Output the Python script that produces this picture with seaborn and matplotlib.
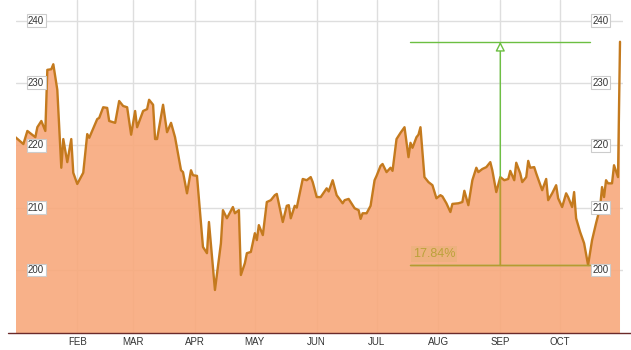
import numpy as np
import pandas as pd
import matplotlib
matplotlib.use("Agg")
import matplotlib.pyplot as plt
import matplotlib.dates as mdates
import matplotlib.transforms as mtransforms
from matplotlib.lines import Line2D
import seaborn as sns

# ---------------- data ----------------
start_date = "2015-01-01"
day_offsets = [0, 4, 6, 8, 10, 11, 13, 15, 16, 18, 19, 21, 23, 24, 26, 28, 29, 31, 34, 36,
               37, 41, 42, 44, 46, 47, 50, 52, 54, 56, 58, 60, 61, 64, 66, 67, 69, 70, 71, 74,
               76, 78, 80, 83, 84, 86, 88, 89, 91, 94, 96, 97, 100, 103, 104, 106, 109, 110, 112, 113,
               115, 116, 118, 120, 121, 122, 124, 126, 128, 130, 131, 134, 136, 137, 138, 140, 141, 144, 146, 148,
               149, 151, 153, 156, 157, 159, 161, 164, 165, 167, 170, 172, 173, 174, 176, 178, 180, 181, 183, 184,
               186, 188, 189, 191, 193, 195, 197, 198, 199, 201, 202, 203, 205, 207, 209, 211, 213, 214, 216, 218,
               219, 222, 224, 225, 227, 229, 231, 232, 234, 236, 238, 239, 241, 243, 245, 247, 248, 250, 251, 253,
               254, 256, 257, 258, 260, 261, 264, 266, 267, 269, 271, 272, 274, 276, 277, 279, 280, 281, 283, 285,
               287, 289, 291, 293, 294, 295, 296, 297, 299, 300, 302, 303]
prices = [221.3, 220.2, 222.3, 221.8, 221.3, 222.9, 223.9, 222.3, 232.1, 232.2, 233.0, 228.9, 216.4, 221.0, 217.3, 221.0, 215.6, 213.8, 215.6, 221.8,
          221.2, 224.2, 224.4, 226.1, 226.0, 223.9, 223.6, 227.1, 226.3, 226.1, 221.7, 225.5, 222.9, 225.5, 225.8, 227.3, 226.5, 221.0, 221.0, 226.5,
          222.1, 223.6, 221.3, 216.0, 215.7, 212.3, 216.0, 215.2, 215.1, 203.7, 202.7, 207.7, 196.8, 204.3, 209.6, 208.3, 210.1, 209.1, 209.6, 199.2,
          201.1, 202.7, 202.9, 205.9, 204.8, 207.2, 205.6, 210.9, 211.2, 212.0, 212.2, 207.7, 210.3, 210.4, 208.3, 210.3, 210.0, 214.6, 214.4, 214.9,
          214.1, 211.7, 211.7, 213.1, 212.6, 214.4, 212.0, 210.7, 211.2, 211.4, 209.9, 209.6, 208.2, 209.1, 209.1, 210.3, 214.4, 215.1, 216.7, 217.0,
          215.7, 216.4, 215.9, 221.0, 222.0, 222.9, 218.1, 220.4, 219.6, 221.3, 221.7, 222.9, 214.9, 214.1, 213.6, 211.5, 212.0, 211.8, 210.7, 209.3,
          210.6, 210.7, 210.9, 212.7, 210.4, 214.4, 216.4, 215.7, 216.2, 216.5, 217.3, 216.0, 212.5, 214.9, 214.4, 214.6, 215.9, 214.4, 217.2, 215.5,
          214.1, 214.9, 217.5, 216.4, 216.5, 215.5, 212.8, 214.6, 211.2, 212.3, 213.6, 211.5, 210.1, 212.3, 211.7, 210.1, 212.5, 208.3, 206.1, 204.3,
          200.8, 204.8, 207.5, 210.0, 213.3, 211.7, 214.4, 213.9, 213.9, 216.8, 214.9, 236.6]

month_ticks = ["2015-02-01", "2015-03-01", "2015-04-01", "2015-05-01", "2015-06-01",
               "2015-07-01", "2015-08-01", "2015-09-01", "2015-10-01"]
month_labels = ["FEB", "MAR", "APR", "MAY", "JUN", "JUL", "AUG", "SEP", "OCT"]
y_levels = [200, 210, 220, 230, 240]

measure_start = "2015-07-18"
measure_end = "2015-10-16"
measure_x = "2015-09-01"
measure_low = 200.8
measure_high = 236.6
measure_label = "17.84%"

# ---------------- style ----------------
AREA = "#F8A97C"
LINE = "#C47A1E"
GREEN = "#6CBF42"
OLIVE = "#B89A30"
GRID = "#DEDEDE"

sns.set_style("white")
plt.rcParams["font.family"] = ["Liberation Sans", "DejaVu Sans"]

dates = pd.Timestamp(start_date) + pd.to_timedelta(day_offsets, unit="D")
df = pd.DataFrame({"date": dates, "price": prices})

fig = plt.figure(figsize=(6.31, 3.5), dpi=100)
ax = fig.add_axes([16 / 631, 17 / 350, 607 / 631, 333 / 350])

poly = ax.fill_between(df["date"], df["price"], 150, color=AREA, alpha=0.9, lw=0, zorder=2)
sns.lineplot(data=df, x="date", y="price", ax=ax, color=LINE, lw=1.7, zorder=3)

x0 = mdates.date2num(pd.Timestamp(start_date))
ax.set_xlim(x0 + 0.3, x0 + 304.5)
ax.set_ylim(189.9, 243.3)

ax.set_xticks([mdates.date2num(pd.Timestamp(d)) for d in month_ticks])
ax.set_xticklabels(month_labels)
ax.set_yticks(y_levels)
ax.tick_params(axis="x", length=0, pad=3, labelsize=7, labelcolor="#333333")
ax.tick_params(axis="y", left=False, labelleft=False)
ax.grid(True, color=GRID, lw=1)
ax.set_axisbelow(True)
ax.set_xlabel("")
ax.set_ylabel("")
for s in ax.spines.values():
    s.set_visible(False)

fig.add_artist(Line2D([8 / 631, 631 / 631], [17 / 350, 17 / 350], color="#6B2A2A",
                      lw=1, transform=fig.transFigure))

# boxed y labels inside plot on both sides
trans = mtransforms.blended_transform_factory(ax.transAxes, ax.transData)
for v in y_levels:
    for xf in (0.033, 0.963):
        ax.text(xf, v, str(v), transform=trans, ha="center", va="center", fontsize=7,
                color="#333333", zorder=7,
                bbox=dict(boxstyle="square,pad=0.15", fc="white", ec="#CCCCCC", lw=0.8))

# measurement annotation
ms = mdates.date2num(pd.Timestamp(measure_start))
me = mdates.date2num(pd.Timestamp(measure_end))
mx = mdates.date2num(pd.Timestamp(measure_x))
clip = poly.get_paths()[0]

ax.plot([ms, me], [measure_high, measure_high], color=GREEN, lw=1, zorder=5)
ax.plot([ms, me], [measure_low, measure_low], color=GREEN, lw=1, zorder=5)
ax.annotate("", xy=(mx, measure_high), xytext=(mx, measure_low), zorder=5,
            arrowprops=dict(arrowstyle="-|>,head_length=0.55,head_width=0.28",
                            ec=GREEN, fc="white", lw=1, shrinkA=0, shrinkB=0))
for xs, ys in (([ms, me], [measure_low, measure_low]), ([mx, mx], [measure_low, measure_high])):
    ln, = ax.plot(xs, ys, color=OLIVE, lw=1, zorder=6)
    ln.set_clip_path(clip, ax.transData)

ax.text(ms + 1.2, measure_low + 1.8, measure_label, ha="left", va="center", fontsize=9,
        color="#BBA23A", zorder=6,
        bbox=dict(boxstyle="square,pad=0.15", fc="#D8B46A", alpha=0.3, ec="none"))

fig.savefig("out.png", dpi=100)
